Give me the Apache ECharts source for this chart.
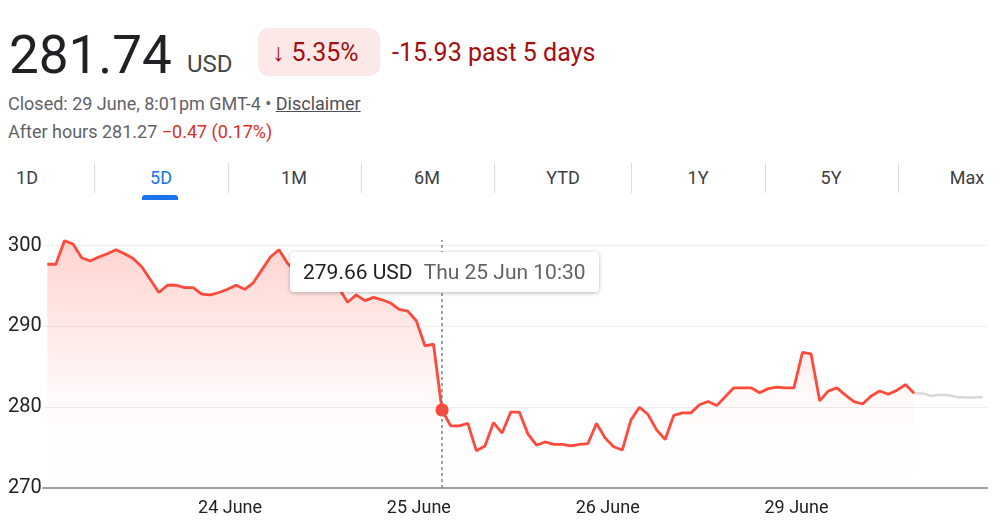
<!DOCTYPE html>
<html>
<head>
<meta charset="utf-8">
<script src="https://cdn.jsdelivr.net/npm/echarts@6/dist/echarts.min.js"></script>
<style>
  body { margin: 0; width: 1003px; height: 532px; background: #fff; overflow: hidden; position: relative; font-family: Roboto, Arial, sans-serif; }
  .t { position: absolute; line-height: 1; white-space: nowrap; }
  .price { left: 9px; top: 29px; font-size: 53px; color: #202124; }
  .cur { left: 187px; top: 52px; font-size: 24px; color: #444746; }
  .badge { position: absolute; left: 258px; top: 28px; width: 122px; height: 48px; background: #fce8e6; border-radius: 10px; }
  .chg { left: 272px; top: 40px; font-size: 25px; color: #a50e0e; }
  .chg b { font-weight: normal; margin-right: 7px; }
  .days { left: 392px; top: 40px; font-size: 25px; color: #a50e0e; }
  .closed { left: 8px; top: 95px; font-size: 18px; color: #5f6368; }
  .closed u { color: #4d5156; }
  .after { left: 8px; top: 123px; font-size: 18px; color: #5f6368; }
  .after span { color: #d93025; }
  .tab { position: absolute; top: 169px; font-size: 18px; line-height: 1; color: #3c4043; transform: translateX(-50%); }
  .sep { position: absolute; top: 163px; width: 1px; height: 30px; background: #dadce0; }
  .under { position: absolute; left: 142px; top: 195px; width: 36px; height: 5px; background: #1a73e8; border-radius: 3px 3px 0 0; }
  #chart { position: absolute; left: 0; top: 200px; width: 1003px; height: 332px; }
</style>
</head>
<body>
<div class="t price">281.74</div>
<div class="t cur">USD</div>
<div class="badge"></div>
<div class="t chg"><b>↓</b>5.35%</div>
<div class="t days">-15.93 past 5 days</div>
<div class="t closed">Closed: 29 June, 8:01pm GMT-4 • <u>Disclaimer</u></div>
<div class="t after">After hours 281.27 <span>−0.47 (0.17%)</span></div>

<div class="tab" style="left:27px">1D</div>
<div class="tab" style="left:161px;color:#1a73e8">5D</div>
<div class="tab" style="left:294px">1M</div>
<div class="tab" style="left:427px">6M</div>
<div class="tab" style="left:563px">YTD</div>
<div class="tab" style="left:698px">1Y</div>
<div class="tab" style="left:831px">5Y</div>
<div class="tab" style="left:967px">Max</div>
<div class="sep" style="left:94px"></div>
<div class="sep" style="left:228px"></div>
<div class="sep" style="left:361px"></div>
<div class="sep" style="left:494px"></div>
<div class="sep" style="left:631px"></div>
<div class="sep" style="left:765px"></div>
<div class="sep" style="left:898px"></div>
<div class="under"></div>

<div id="chart"></div>

<script>
// trading days shown in the 5D view, half-hour slots 09:30 .. 20:00
var days = ["Tue 23 Jun", "Wed 24 Jun", "Thu 25 Jun", "Fri 26 Jun", "Mon 29 Jun"];
var dayLabels = ["23 June", "24 June", "25 June", "26 June", "29 June"];
var times = ["09:30", "10:00", "10:30", "11:00", "11:30", "12:00", "12:30", "13:00",
    "13:30", "14:00", "14:30", "15:00", "15:30", "16:00", "16:30", "17:00",
    "17:30", "18:00", "18:30", "19:00", "19:30", "20:00"];

// price up to the close on 29 June
var prices = [
    297.7, 297.7, 300.6, 300.2, 298.5, 298.1, 298.6, 299.0, 299.5, 299.0, 298.4,
    297.4, 295.8, 294.2, 295.1, 295.1, 294.8, 294.8, 294.0, 293.9, 294.2, 294.6,
    295.1, 294.6, 295.4, 297.0, 298.6, 299.5, 297.8, 296.8, 296.5, 296.0, 295.8,
    295.2, 294.7, 293.0, 293.9, 293.2, 293.6, 293.3, 292.9, 292.1, 291.9, 290.7,
    287.6, 287.8, 279.66, 277.7, 277.7, 278.0, 274.6, 275.2, 278.1, 276.8, 279.4,
    279.4, 276.7, 275.3, 275.7, 275.4, 275.4, 275.2, 275.4, 275.5, 278.0, 276.2,
    275.1, 274.7, 278.4, 280.0, 279.1, 277.2, 276.0, 279.0, 279.3, 279.3, 280.3,
    280.7, 280.2, 281.3, 282.4, 282.4, 282.4, 281.8, 282.3, 282.5, 282.4, 282.4,
    286.8, 286.6, 280.8, 282.0, 282.4, 281.5, 280.7, 280.4, 281.4, 282.0, 281.6,
    282.1, 282.8, 281.74
];
// after-hours trading on 29 June (starts at the close)
var afterHours = [281.74, 281.7, 281.4, 281.55, 281.5, 281.25, 281.2, 281.22, 281.27];
var hoverIndex = 46;

var categories = [];
days.forEach(function (d) {
    times.forEach(function (t) { categories.push(d + " " + t); });
});

var closeIndex = prices.length - 1;
var redData = categories.map(function (c, i) { return i < prices.length ? prices[i] : null; });
var grayData = categories.map(function (c, i) {
    return i >= closeIndex && i - closeIndex < afterHours.length ? afterHours[i - closeIndex] : null;
});
var dotData = categories.map(function (c, i) { return i === hoverIndex ? prices[i] : null; });

var perDay = times.length;
var chart = echarts.init(document.getElementById("chart"));
chart.setOption({
    animation: false,
    grid: { left: 43, right: 16, top: 40, bottom: 44 },
    tooltip: {
        trigger: "axis",
        triggerOn: "none",
        alwaysShowContent: true,
        transitionDuration: 0,
        position: [290, 52],
        backgroundColor: "#fff",
        borderWidth: 0,
        padding: [7, 13],
        extraCssText: "box-shadow: 0 1px 4px rgba(0,0,0,0.28); border-radius: 4px;",
        textStyle: { fontFamily: "Roboto", fontSize: 21, color: "#202124" },
        axisPointer: {
            type: "line",
            lineStyle: { color: "#80868b", width: 1.5, type: [3, 3] }
        },
        formatter: function (params) {
            var p = params.filter(function (q) { return q.seriesIndex === 0; })[0] || params[0];
            return '<div style="line-height:26px">' + Number(p.value).toFixed(2) + ' USD' +
                '<span style="color:#5f6368;margin-left:11px">' + p.name + '</span></div>';
        }
    },
    xAxis: {
        type: "category",
        boundaryGap: true,
        data: categories,
        axisLine: { lineStyle: { color: "#9aa0a6", width: 2 } },
        axisTick: {
            length: 6,
            lineStyle: { color: "#9aa0a6", width: 1.5 },
            interval: function (i) { return i > 0 && i % perDay === 0; }
        },
        axisLabel: {
            color: "#202124",
            fontFamily: "Roboto",
            fontSize: 18,
            margin: 11,
            padding: [0, 12, 0, 0],
            interval: function (i) { return i > 0 && i % perDay === 0; },
            formatter: function (v, i) { return dayLabels[Math.floor(i / perDay)]; }
        },
        splitLine: { show: false }
    },
    yAxis: {
        type: "value",
        min: 270,
        max: 300.7,
        interval: 10,
        axisLine: { show: false },
        axisTick: { show: false },
        axisLabel: {
            color: "#202124",
            fontFamily: "Roboto",
            fontSize: 20,
            align: "left",
            margin: 35,
            showMaxLabel: false
        },
        splitLine: { showMaxLine: false, lineStyle: { color: "#eeeeee", width: 1 } }
    },
    series: [{
        name: "price",
        type: "line",
        data: redData,
        symbol: "none",
        lineStyle: { color: "#ea4335", width: 2.8 },
        itemStyle: { color: "#ea4335" },
        areaStyle: {
            color: new echarts.graphic.LinearGradient(0, 0, 0, 1, [
                { offset: 0, color: "rgba(234,67,53,0.34)" },
                { offset: 0.6, color: "rgba(234,67,53,0.06)" },
                { offset: 0.78, color: "rgba(234,67,53,0.01)" },
                { offset: 1, color: "rgba(234,67,53,0)" }
            ])
        },
        z: 3
    }, {
        name: "after hours",
        type: "line",
        data: grayData,
        symbol: "none",
        lineStyle: { color: "#c6c6c6", width: 2.6 },
        itemStyle: { color: "#c6c6c6" },
        z: 2
    }, {
        name: "hover",
        type: "scatter",
        data: dotData,
        symbolSize: 12,
        itemStyle: { color: "#ea4335", opacity: 1 },
        silent: true,
        z: 5
    }]
});
chart.dispatchAction({ type: "showTip", seriesIndex: 0, dataIndex: hoverIndex });
</script>
</body>
</html>
